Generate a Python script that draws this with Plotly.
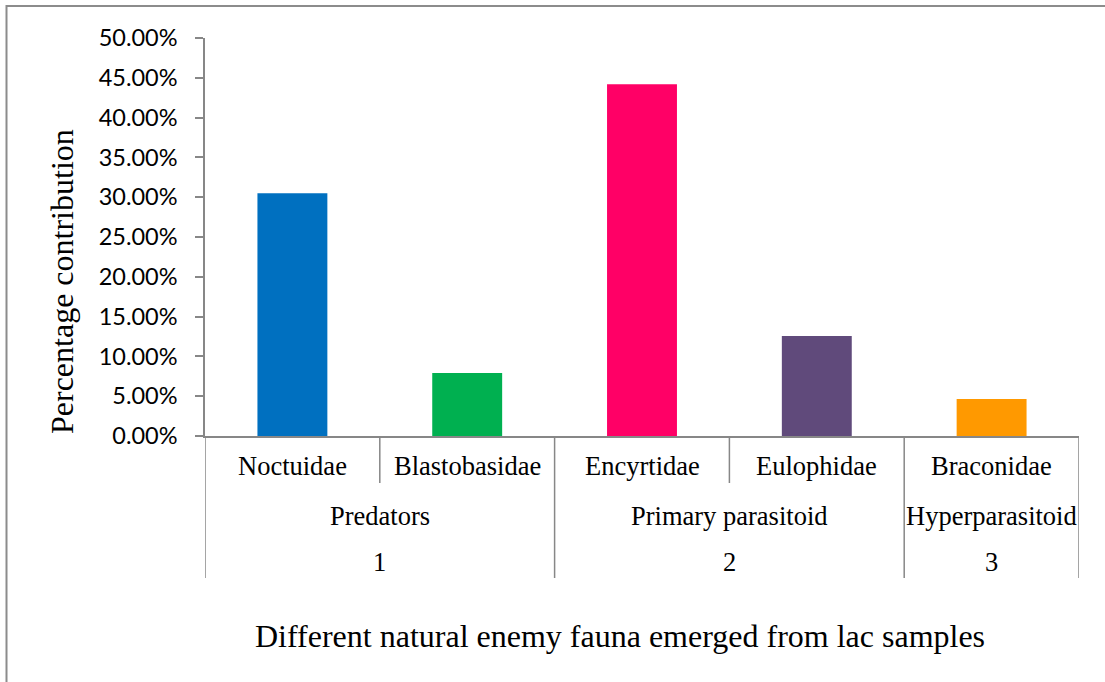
import plotly.graph_objects as go

# Data
families = ["Noctuidae", "Blastobasidae", "Encyrtidae", "Eulophidae", "Braconidae"]
groups = ["Predators", "Predators", "Primary parasitoid", "Primary parasitoid", "Hyperparasitoid"]
group_ids = ["1", "1", "2", "2", "3"]
values = [0.305, 0.079, 0.442, 0.1255, 0.0465]
bar_colors = ["#0070C0", "#00B050", "#FF0066", "#604A7B", "#FF9900"]

W, H = 1105, 682
L, R, T, B = 205, 26, 38, 246
LINE = "#878787"
SERIF = "Liberation Serif, Times New Roman, serif"


def px_x(p):
    return (p - L) / (W - L - R)


def px_y(p):
    return 1 - (p - T) / (H - T - B)


# contiguous runs of the outer category levels
runs = []
for i, (g, n) in enumerate(zip(groups, group_ids)):
    if runs and runs[-1][0] == (g, n):
        runs[-1][2] = i
    else:
        runs.append([(g, n), i, i])

idx = list(range(len(families)))
fig = go.Figure(go.Bar(x=idx, y=values, width=0.4, marker=dict(color=bar_colors, line_width=0),
                       hovertemplate="%{customdata}<br>%{y:.2%}<extra></extra>",
                       customdata=families))

shapes = []
ann = []
y_axis = px_y(436)
y_short = px_y(483)
y_long = px_y(578)

# family boundaries inside a group (short) and group boundaries (long)
starts = {r[1] for r in runs}
for i in idx[1:]:
    shapes.append(dict(type="line", xref="x", yref="paper", x0=i - 0.5, x1=i - 0.5,
                       y0=y_axis, y1=y_long if i in starts else y_short,
                       line=dict(color=LINE, width=1.5)))
for edge in (-0.5, len(idx) - 0.5):
    shapes.append(dict(type="line", xref="x", yref="paper", x0=edge, x1=edge,
                       y0=y_axis, y1=y_long, line=dict(color=LINE, width=1.5)))

lab = dict(showarrow=False, xanchor="center", yanchor="middle")
for i, f in zip(idx, families):
    ann.append(dict(x=i, y=px_y(466), xref="x", yref="paper", text=f, **lab,
                    font=dict(family=SERIF, size=26.5, color="black")))
for (g, n), a, b in runs:
    c = (a + b) / 2
    ann.append(dict(x=c, y=px_y(516), xref="x", yref="paper", text=g, **lab,
                    font=dict(family=SERIF, size=26.5, color="black")))
    ann.append(dict(x=c, y=px_y(562), xref="x", yref="paper", text=n, **lab,
                    font=dict(family=SERIF, size=26.5, color="black")))

ann.append(dict(x=px_x(620), y=px_y(636), xref="paper", yref="paper", **lab,
                text="Different natural enemy fauna emerged from lac samples",
                font=dict(family=SERIF, size=32, color="black")))
ann.append(dict(x=px_x(62), y=px_y(282), xref="paper", yref="paper", **lab,
                text="Percentage contribution", textangle=-90,
                font=dict(family=SERIF, size=32, color="black")))

# outer chart frame
shapes.append(dict(type="rect", xref="paper", yref="paper",
                   x0=px_x(6.5), x1=px_x(1110), y0=px_y(6), y1=px_y(690),
                   line=dict(color="#8C8C8C", width=2)))

fig.update_layout(
    width=W, height=H,
    margin=dict(l=L, r=R, t=T, b=B),
    paper_bgcolor="white", plot_bgcolor="white",
    showlegend=False, bargap=0.6,
    shapes=shapes, annotations=ann,
    font=dict(family="Lato, sans-serif", size=23.5, color="black"),
)
fig.update_xaxes(range=[-0.5, len(idx) - 0.5], showticklabels=False, showgrid=False,
                 zeroline=False, showline=True, linecolor=LINE, linewidth=1.5, ticks="")
fig.update_yaxes(range=[0, 0.5], dtick=0.05, tickformat=".2%", showgrid=False, zeroline=False,
                 showline=True, linecolor=LINE, linewidth=1.5, ticks="outside", ticklen=8,
                 tickcolor=LINE, tickwidth=1.5, ticklabelstandoff=13)

# drop the default page margin so the figure sits at the window origin
fig.write_html("out.html", config={"displayModeBar": False},
               post_script="document.body.style.margin='0';")
